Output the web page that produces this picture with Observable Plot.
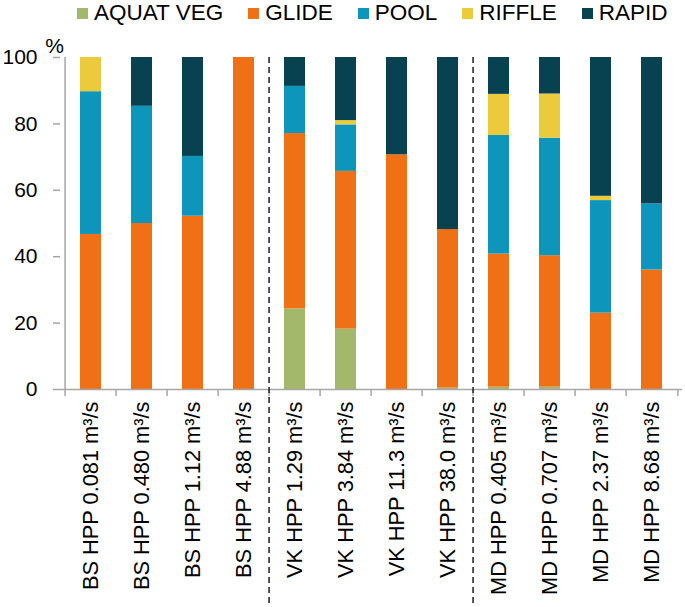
<!DOCTYPE html>
<html><head><meta charset="utf-8">
<script src="https://cdn.jsdelivr.net/npm/d3@7"></script>
<script src="https://cdn.jsdelivr.net/npm/@observablehq/plot@0.6"></script>
<style>
body{margin:0;background:#fff;font-family:"Liberation Sans",Arial,sans-serif;}
#wrap{position:relative;width:685px;height:607px;}
#legend{position:absolute;top:0;left:77px;display:flex;gap:25px;font-size:22.5px;line-height:normal;color:#000;white-space:nowrap;}
.item{display:flex;align-items:center;}
.sw{width:11px;height:11px;margin-right:6px;}
</style></head><body><div id="wrap"><div id="legend"></div><div id="chart"></div></div>
<script>
const sites = [
  "BS HPP 0.081 m³/s","BS HPP 0.480 m³/s","BS HPP 1.12 m³/s","BS HPP 4.88 m³/s",
  "VK HPP 1.29 m³/s","VK HPP 3.84 m³/s","VK HPP 11.3 m³/s","VK HPP 38.0 m³/s",
  "MD HPP 0.405 m³/s","MD HPP 0.707 m³/s","MD HPP 2.37 m³/s","MD HPP 8.68 m³/s"
];
const series = ["AQUAT VEG","GLIDE","POOL","RIFFLE","RAPID"];
const colors = ["#A3B86A","#F07115","#0E95BC","#EBCB3B","#08414F"];
const aquatVeg = [0, 0, 0, 0, 24.3, 18.2, 0, 0.4, 0.7, 0.7, 0, 0];
const glide    = [46.7, 50.0, 52.2, 100, 52.8, 47.5, 70.7, 47.8, 40.1, 39.6, 23.0, 36.0];
const pool     = [43.0, 35.3, 18.0, 0, 14.2, 14.0, 0, 0, 35.7, 35.4, 33.9, 19.9];
const riffle   = [10.3, 0, 0, 0, 0, 1.3, 0, 0, 12.4, 13.3, 1.3, 0];
const rapid    = [0, 14.7, 29.8, 0, 8.7, 19.0, 29.3, 51.8, 11.1, 11.0, 41.8, 44.1];
const groupStarts = ["VK HPP 1.29 m³/s","MD HPP 0.405 m³/s"];
const yTicks = [0, 20, 40, 60, 80, 100];

const valuesBySeries = [aquatVeg, glide, pool, riffle, rapid];
const table = [];
series.forEach((s, j) => sites.forEach((site, i) => table.push({site, type: s, value: valuesBySeries[j][i]})));

// legend
const legend = document.getElementById("legend");
series.forEach((s, j) => {
  const it = document.createElement("div"); it.className = "item";
  const sw = document.createElement("span"); sw.className = "sw"; sw.style.background = colors[j];
  const t = document.createElement("span"); t.textContent = s;
  it.appendChild(sw); it.appendChild(t); legend.appendChild(it);
});

const W = 685, H = 607, mL = 60, mR = 3, mT = 57, mB = 218;
const step = (W - mL - mR) / sites.length;
const axisGray = "#A6A6A6";

const chart = Plot.plot({
  width: W, height: H,
  marginLeft: mL, marginRight: mR, marginTop: mT, marginBottom: mB,
  style: {fontFamily: "Liberation Sans, Arial, sans-serif", fontSize: "21px", color: "#000", background: "#fff"},
  x: {domain: sites, paddingInner: 0.59, paddingOuter: 0.295, label: null},
  y: {domain: [0, 100], label: null},
  color: {domain: series, range: colors},
  marks: [
    Plot.barY(table, {x: "site", y: "value", fill: "type", order: series}),
    Plot.ruleY([0], {stroke: axisGray, strokeWidth: 1.5}),
    Plot.ruleX([sites[0]], {dx: -step / 2, stroke: axisGray, strokeWidth: 1.5}),
    Plot.ruleX(sites, {x: d => d, dx: -step / 2, y1: 0, y2: 0, insetBottom: -7, stroke: axisGray, strokeWidth: 1.5}),
    Plot.ruleX([sites[sites.length - 1]], {dx: step / 2, y1: 0, y2: 0, insetBottom: -7, stroke: axisGray, strokeWidth: 1.5}),
    Plot.ruleX(groupStarts, {dx: -step / 2, insetBottom: -214, stroke: "#2a2a2a", strokeWidth: 1.6, strokeDasharray: "6,4"}),
    Plot.axisY({ticks: yTicks, tickSize: 7, tickPadding: 16, stroke: axisGray, strokeWidth: 1.5, fontSize: 21}),
    Plot.axisX({tickSize: 0, tickPadding: 12, tickRotate: -90, fontSize: 21.8}),
    Plot.text(["%"], {frameAnchor: "top-left", dx: -6, dy: -19, fontSize: 21, textAnchor: "middle"})
  ]
});
document.getElementById("chart").appendChild(chart);
</script></body></html>
